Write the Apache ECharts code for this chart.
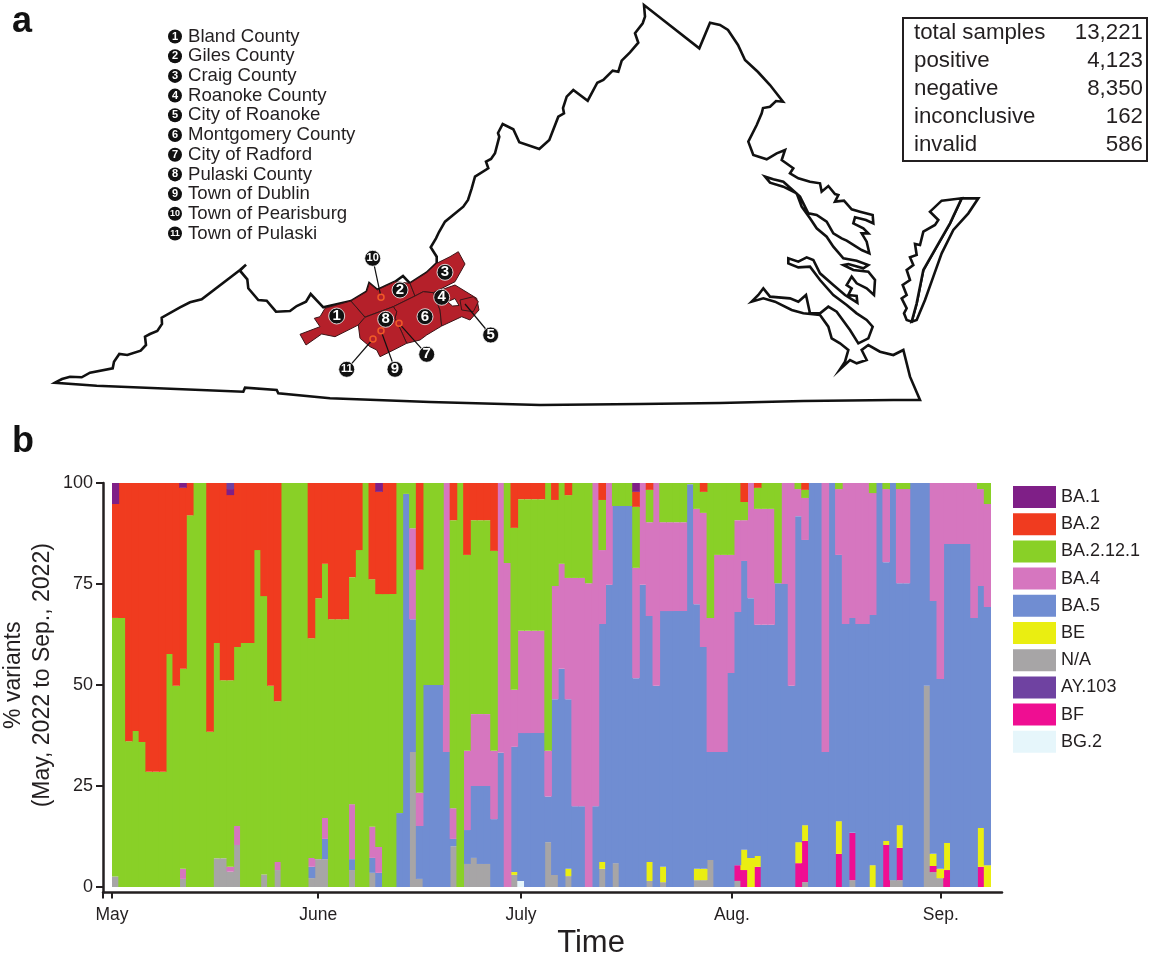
<!DOCTYPE html>
<html>
<head>
<meta charset="utf-8">
<style>html,body{margin:0;padding:0;background:#fff}#c{width:1150px;height:957px}</style>
<script src="https://cdn.jsdelivr.net/npm/echarts@6/dist/echarts.min.js"></script>
</head>
<body>
<div id="c"></div>
<script>
// ---------- panel b data: % of each variant per day (130 days from 1 May 2022) ----------
const variantNames = ['BA.1','BA.2','BA.2.12.1','BA.4','BA.5','BE','N/A','AY.103','BF','BG.2'];
const na = [2.6,0,0,0,0,0,0,0,0,0, 2,0,0,0,0,7.1,7.1,3.8,10.4,0,
 0,0,3.1,0,4.2,0,0,0,0,2.2, 6.9,6.9,0,0,0,4.2,0,0,3.5,0,
 0,0,0,0,33.4,2,0,0,0,0, 10.1,0,5.7,7.2,5.7,5.7,0,0,0,3,
 0,0,0,0,11.1,3,0,2.7,0,0, 0,0,4.5,0,5.9,0,0,0,0,1.5,
 0,1.2,0,0,0,0,1.7,1.7,6.7,0, 0,0,1.5,0,0,0,0,0,0,0,
 0,0,1.2,0,0,0,0,0,0,1.7, 0,0,0,0,0,1.7,1.7,0,0,0,
 49.8,3.7,2.2,0,0,0,0,0,0,0];
const bg2 = [0,0,0,0,0,0,0,0,0,0, 0,0,0,0,0,0,0,0,0,0,
 0,0,0,0,0,0,0,0,0,0, 0,0,0,0,0,0,0,0,0,0,
 0,0,0,0,0,0,0,0,0,0, 0,0,0,0,0,0,0,0,0,0,
 1.5,0,0,0,0,0,0,0,0,0, 0,0,0,0,0,0,0,0,0,0,
 0,0,0,0,0,0,0,0,0,0, 0,0,0,0,0,0,0,0,0,0,
 0,0,0,0,0,0,0,0,0,0, 0,0,0,0,0,0,0,0,0,0,
 0,0,0,0,0,0,0,0,0,0];
const bf = [0,0,0,0,0,0,0,0,0,0, 0,0,0,0,0,0,0,0,0,0,
 0,0,0,0,0,0,0,0,0,0, 0,0,0,0,0,0,0,0,0,0,
 0,0,0,0,0,0,0,0,0,0, 0,0,0,0,0,0,0,0,0,0,
 0,0,0,0,0,0,0,0,0,0, 0,0,0,0,0,0,0,0,0,0,
 0,0,0,0,0,0,0,0,0,0, 0,0,3.9,4.2,0,5,0,0,0,0,
 0,5.9,10.2,0,0,0,0,8.2,0,11.7, 0,0,0,0,10.4,0,8,0,0,0,
 0,1.5,0,4.2,0,0,0,0,5,0];
const be = [0,0,0,0,0,0,0,0,0,0, 0,0,0,0,0,0,0,0,0,0,
 0,0,0,0,0,0,0,0,0,0, 0,0,0,0,0,0,0,0,0,0,
 0,0,0,0,0,0,0,0,0,0, 0,0,0,0,0,0,0,0,0,0.7,
 0,0,0,0,0,0,0,1.8,0,0, 0,0,1.7,0,0,0,0,0,0,4.7,
 0,3.8,0,0,0,0,2.8,2.8,0,0, 0,0,0,5,7.2,2.7,0,0,0,0,
 0,5.2,3.9,0,0,0,0,8.1,0,0, 0,0,5.4,0,1,0,5.6,0,0,0,
 0,3,2.3,6.7,0,0,0,0,9.6,5.4];
const ba5 = [0,0,0,0,0,0,0,0,0,0, 0,0,0,0,0,0,0,0,0,0,
 0,0,0,0,0,0,0,0,0,2.8, 0,5,0,0,0,2.7,0,0,3.7,3.5,
 0,0,18.3,97.3,32.9,13.1,50,50,50,33.4, 1.8,0,8.4,17.8,19.3,19.3,16.8,33.2,0,31,
 36.6,38.1,38.1,38.1,11.3,43.5,54,42,20,20, 0,20,58.9,74.8,88.4,94.3,94.3,51.7,74.8,60.9,
 49.8,63.3,68.3,68.3,68.3,99.7,65.5,54.9,26.7,33.4, 33.4,53,62.7,71.5,64.3,57.2,64.9,64.9,75.2,75,
 49.8,80.7,70.6,100,100,33.4,100,65.9,65.1,53.2, 65.1,65.1,61.9,100,69,98.3,59.9,75.2,100,100,
 50.2,62.6,47,74,84.9,84.9,84.9,66.6,59.9,63.9];
const ba4 = [0,0,0,0,0,0,0,0,0,0, 2.5,0,0,0,0,0,0,1.2,4.7,0,
 0,0,0,0,2,0,0,0,0,2.2, 0,5.2,0,0,0,13.6,0,0,7.7,6.4,
 0,0,0,0,22.5,8.2,0,0,0,66.6, 7.6,0,19.6,17.8,17.8,17.8,16.9,66.8,80.2,14.1,
 25.3,25.3,25.3,25.3,11.3,28,26,30,56.5,56.5, 75.2,80,18.3,25.2,0,0,0,27.3,25.2,23.2,
 50.2,22,22,22,22,0,23.6,33.2,33.2,48.8, 48.8,29.2,22.7,10.1,28.5,28.7,28.7,28.7,0,25,
 50.2,6.7,10.4,0,0,66.6,0,16.3,34.9,33.4, 34.9,34.9,30.2,0,18.1,0,23.3,23.3,0,0,
 0,29.2,48.5,15.1,15.1,15.1,15.1,33.4,24,25.5];
const ba2121 = [64,66.6,36.1,38.6,35.9,28.5,28.5,28.5,57.7,49.8, 49.5,92,100,100,38.4,53.3,44.1,46.2,44.3,60.4,
 60.4,83.4,68.9,49.8,39.8,100,100,100,100,54.4, 64.6,62.9,66.3,66.3,66.3,56.2,83.4,100,61.3,62.6,
 72.5,72.5,81.7,2.7,11.2,55.2,50,50,50,0, 71.3,100,48.5,48,48,48,49.5,0,19.8,40.1,
 32.6,32.6,32.6,32.6,66.3,21.3,20,20.5,23.5,23.5, 24.8,0,12.4,0,5.7,5.7,5.7,15.1,0,8,
 0,9.7,9.7,9.7,9.7,0.3,6.4,5.2,33.4,17.8, 17.8,17.8,9.2,4.5,0,5.2,6.4,6.4,24.8,0,
 0,1.5,2,0,0,0,0,1.5,0,0, 0,0,2.5,0,1.5,0,1.5,1.5,0,0,
 0,0,0,0,0,0,0,0,1.5,5.2];
const ba2 = [28.2,33.4,63.9,61.4,64.1,71.5,71.5,71.5,42.3,50.2, 44.8,8,0,0,61.6,39.6,48.8,45.8,40.6,39.6,
 39.6,16.6,28,50.2,54,0,0,0,0,38.4, 28.5,20,33.7,33.7,33.7,23.3,16.6,0,23.8,25.3,
 27.5,27.5,0,0,0,21.5,0,0,0,0, 9.2,0,17.8,9.2,9.2,9.2,16.8,0,0,11.1,
 4,4,4,4,0,4.2,0,3,0,0, 0,0,4.2,0,0,0,0,3.7,0,1.7,
 0,0,0,0,0,0,0,2.2,0,0, 0,0,0,4.7,0,1.2,0,0,0,0,
 0,0,1.7,0,0,0,0,0,0,0, 0,0,0,0,0,0,0,0,0,0,
 0,0,0,0,0,0,0,0,0,0];
const ba1 = [5.2,0,0,0,0,0,0,0,0,0, 1.2,0,0,0,0,0,0,1.5,0,0,
 0,0,0,0,0,0,0,0,0,0, 0,0,0,0,0,0,0,0,0,2.2,
 0,0,0,0,0,0,0,0,0,0, 0,0,0,0,0,0,0,0,0,0,
 0,0,0,0,0,0,0,0,0,0, 0,0,0,0,0,0,0,2.2,0,0,
 0,0,0,0,0,0,0,0,0,0, 0,0,0,0,0,0,0,0,0,0,
 0,0,0,0,0,0,0,0,0,0, 0,0,0,0,0,0,0,0,0,0,
 0,0,0,0,0,0,0,0,0,0];
const ay103 = [0,0,0,0,0,0,0,0,0,0, 0,0,0,0,0,0,0,1.5,0,0,
 0,0,0,0,0,0,0,0,0,0, 0,0,0,0,0,0,0,0,0,0,
 0,0,0,0,0,0,0,0,0,0, 0,0,0,0,0,0,0,0,0,0,
 0,0,0,0,0,0,0,0,0,0, 0,0,0,0,0,0,0,0,0,0,
 0,0,0,0,0,0,0,0,0,0, 0,0,0,0,0,0,0,0,0,0,
 0,0,0,0,0,0,0,0,0,0, 0,0,0,0,0,0,0,0,0,0,
 0,0,0,0,0,0,0,0,0,0];
const yTicks = [0,25,50,75,100];
const monthLabels = ['May','June','July','Aug.','Sep.'];
const monthDayOffsets = [0,30.5,60.5,91.7,122.6];

// ---------- panel a data ----------
const countyNames = ['Bland County','Giles County','Craig County','Roanoke County','City of Roanoke','Montgomery County','City of Radford','Pulaski County','Town of Dublin','Town of Pearisburg','Town of Pulaski'];
const statNames = ['total samples','positive','negative','inconclusive','invalid'];
const statValues = ['13,221','4,123','8,350','162','586'];

// outlines (map units equal page pixels)
const westAndMountains = [[55,382.7],[62,379],[70,376.7],[81.7,377.3],[90,372.7],[112.7,368.3],[114,361.7],[119.3,354],[127.3,355],[140.7,350.7],[146,345],[145,336.7],[150,334],[157.3,331],[162,324],[161.7,317.7],[180,307.3],[190,302.3],[201.7,299.3],[240,270],[246,264.7],[240,270.7],[247.3,279.3],[248.3,288.3],[258.3,300],[266.7,300.7],[276,311.7],[290,311],[296.7,306],[306,301.7],[310.7,294],[323.3,307.3],[351,301],[366.7,291.7],[369.3,283.3],[377.3,290],[395,281.7],[403,276],[410,283.3],[426.7,272.7],[436.7,263.3],[436.7,256.7],[430.7,247.3],[436,238.3],[439,232],[445,221.7],[463.3,206.7],[468,200],[471.7,188.3],[475,176.7],[488.3,168.3],[486,161.7],[491,159],[495,153.3],[499.3,136.7],[498,133],[502.7,124],[513.3,129.3],[519.3,142.3],[539.3,149],[549.3,140],[558.3,116.7],[564,113.3],[563,108],[566.7,96.7],[573.3,90],[587.7,100.7],[597.3,82.7],[603.3,80],[612.7,70.7],[618.3,71.7],[621.7,60.7],[630,52.3],[638.3,42.7],[635,33.3],[642.7,23.3],[645,16.7],[644,5],[699.3,48.3],[710,22.7],[720,25],[728,30],[738,45],[745,60],[758,72],[770,85],[783,101.7],[776,101],[770,106.7],[763,108],[761.7,113.3],[756.7,125],[748.3,141.7],[753.3,155],[766.7,159.3],[776.7,153.3],[785,150],[781.7,160],[793.3,168.3]];
const shorelineCrop = [[210,10],[235,25],[270,35],[300,40],[305,65],[325,48],[345,72],[355,75],[345,95],[372,92],[395,118],[420,125],[458,135],[460,160],[438,150],[405,142],[400,160],[430,175],[445,190],[425,190],[440,215],[448,250],[425,240],[380,212],[365,205],[340,190],[320,155],[290,135],[265,130],[240,80],[190,35],[160,28],[135,20],[150,38],[190,50],[230,70],[245,110],[270,145],[290,175],[320,200],[340,230],[370,265],[410,272],[445,285],[430,295],[385,282],[370,285],[400,300],[445,305],[465,330],[462,375],[440,355],[410,340],[395,320],[380,345],[395,355],[385,375],[410,378],[412,398],[375,375],[340,345],[300,310],[280,270],[260,262],[235,275],[205,265],[205,280],[235,292],[270,290],[300,330],[340,375],[380,405],[410,430],[440,450],[458,470],[445,505],[415,520],[390,480],[350,425],[325,410],[300,430],[270,430],[258,375],[235,395],[210,385],[150,380],[130,355],[115,375],[95,395],[130,385],[165,395],[215,420],[250,430],[300,435],[325,470],[335,505],[360,520],[385,540],[375,575],[360,598],[390,570],[410,580],[440,570],[425,540],[445,525],[480,545],[520,555],[550,540],[570,620],[600,690]];
const southBorder = [[893.3,400],[803.3,401],[720,403],[640,404],[540,405],[430,402],[330,398.3],[278.3,393.3],[276.7,390],[245,387.7],[243.3,391.7],[96.7,385.7]];
const delmarvaWestCrop = [[665,92],[725,85],[690,160],[650,230],[610,300],[590,400],[575,455],[560,450],[552,430],[560,415],[545,385],[560,375],[548,345],[570,330],[560,300],[580,285],[570,262],[590,255],[585,222],[600,225],[610,185],[645,165],[655,150],[630,125]];
const delmarvaEastCrop = [[725,85],[775,85],[745,130],[700,180],[665,250],[640,320],[615,390],[590,450],[575,455],[590,400],[610,300],[650,230],[690,160]];
const blandShape = [[300,334.3],[306,345],[321.7,334],[335,336.7],[358.3,325],[365,317.3],[351,301],[325,308.3],[320,316.7],[314.3,318.3],[320,326.7]];
const gilesShape = [[351,301],[365,317],[393.3,306.7],[415,296],[410,283.3],[395,281.7],[377.3,290],[369.3,283.3],[366.7,291.7]];
const craigShape = [[410,283.3],[415,296],[423.3,291.7],[433.3,292.7],[455,281.7],[465,264],[458.3,251.7],[450,256.7],[436.7,263.3],[426.7,272.7]];
const roanokeCoShape = [[433.3,292.7],[455,285],[476.7,298.3],[479,310],[470,320],[461.7,316.7],[441.7,326],[440,310]];
const roanokeGapShape = [[447.5,301.7],[455,298.5],[459,305.5],[452.5,306]];
const roanokeCityShape = [[460,300],[473.3,296.7],[478.3,301.7],[473.3,311.7],[461.7,310]];
const montgomeryShape = [[393.3,306.7],[415,296],[423.3,291.7],[433.3,292.7],[440,310],[441.7,326],[426.7,335],[420,340],[406.7,343.3],[400,328.3],[395,318.3],[396.7,311.7]];
const pulaskiShape = [[358.3,325],[365,317.3],[393.3,306.7],[396.7,311.7],[395,318.3],[400,328.3],[406.7,343.3],[395,349.3],[380,356.7],[376.7,350],[370,346.7],[360,338.3]];
const numberPositions = [[336.7,316],[400,290],[445,272.3],[441.7,297.3],[490.7,335],[425,316.7],[426.7,354.3],[385.7,319.3],[395,369.3],[372.7,258.3],[346.7,369.3]];
const leaderLines = [[[372.7,258.3],[381,297]],[[465,304],[490.7,335]],[[399,323.3],[426.7,354.3]],[[381,330.7],[395,369.3]],[[373,339],[346.7,369.3]]];
const townRings = [[381,297.3],[399,323.3],[381,330.7],[373,339]];
const legendListX = 175, legendListTop = 36.5, legendListStep = 19.7;

// ---------- helpers ----------
const fromCrop = p => [720+p[0]/3, 170+p[1]/3];
const toGeo = p => [p[0], -p[1]];
const ring = pts => { const r = pts.map(toGeo); r.push(r[0]); return r; };
const feature = (name, pts) => ({type:'Feature', properties:{name}, geometry:{type:'Polygon', coordinates:[ring(pts)]}});
const stateOutline = westAndMountains.concat(shorelineCrop.map(fromCrop), southBorder);
const counties = [['Bland',blandShape],['Giles',gilesShape],['Craig',craigShape],['Montgomery',montgomeryShape],['Pulaski',pulaskiShape],['RoanokeCo',roanokeCoShape],['RoanokeCity',roanokeCityShape]];
echarts.registerMap('va', {type:'FeatureCollection', features:[
  feature('Virginia',stateOutline), feature('DelmarvaE',delmarvaEastCrop.map(fromCrop)), feature('DelmarvaW',delmarvaWestCrop.map(fromCrop)),
  ...counties.map(c => feature(c[0],c[1])), feature('RoanokeGap',roanokeGapShape)
]});

const PX_PER_DAY = 6.76;
const dayCategories = na.map((_,i) => 'd'+i);
const FONT = '"Liberation Sans", Arial, sans-serif', INK = '#231f20';
const stackOrder = [['N/A',na,'#a7a5a6'],['BG.2',bg2,'#e6f6fb'],['BF',bf,'#ef0e92'],['BE',be,'#eaee11'],['BA.5',ba5,'#708dd2'],['BA.4',ba4,'#d676bf'],['BA.2.12.1',ba2121,'#89d027'],['BA.2',ba2,'#f03b1f'],['BA.1',ba1,'#7f1f87'],['AY.103',ay103,'#6f42a1']];

const barSeries = stackOrder.map(s => ({
  type:'bar', name:s[0], stack:'v', data:s[1], barWidth:7.6,
  itemStyle:{color:s[2], opacity:1}, silent:true, xAxisIndex:0, yAxisIndex:0
}));

const statGraphics = [];
statGraphics.push({type:'rect', shape:{x:903,y:18,width:244,height:143}, style:{fill:'#fff',stroke:INK,lineWidth:2}});
statNames.forEach((n,i)=>{
  const y = 33 + i*28;
  statGraphics.push({type:'text', x:914, y, style:{text:n, font:'22.3px '+FONT, fill:INK, textAlign:'left', textVerticalAlign:'middle'}});
  statGraphics.push({type:'text', x:1143, y, style:{text:statValues[i], font:'22.3px '+FONT, fill:INK, textAlign:'right', textVerticalAlign:'middle'}});
});
['a','b'].forEach((t,i)=>statGraphics.push({type:'text', x:12, y:i?442:22, style:{text:t, font:'bold 36px '+FONT, fill:'#111', textAlign:'left', textVerticalAlign:'middle'}}));

const numbered = (positions, big, small) => positions.map((p,i) => ({value:toGeo(p), label:{fontSize:i>=9?small:big}}));
const axisStartDay = -9/PX_PER_DAY;
const chart = echarts.init(document.getElementById('c'), null, {renderer:'canvas'});
chart.setOption({
  animation:false,
  backgroundColor:'#fff',
  textStyle:{fontFamily:FONT},
  geo:{
    map:'va', roam:false, silent:true, aspectScale:1,
    boundingCoords:[[0,0],[1150,-957]], left:0, top:0, width:1150, height:957,
    itemStyle:{areaColor:'#fff', borderColor:'#111', borderWidth:2.6},
    label:{show:false}, emphasis:{disabled:true},
    regions:counties.map(c=>({name:c[0], itemStyle:{areaColor:'#b5202a', borderColor:'#3d1518', borderWidth:1}}))
      .concat([{name:'RoanokeGap', itemStyle:{areaColor:'#fff', borderColor:'#3d1518', borderWidth:1}}])
  },
  grid:[
    {left:112, width:879, top:483, height:404, outerBoundsMode:'none'},
    {left:103, right:148, top:483, bottom:64.5, outerBoundsMode:'none'}
  ],
  xAxis:[
    {type:'category', gridIndex:0, data:dayCategories, show:false, boundaryGap:true},
    {type:'value', gridIndex:1, min:axisStartDay, max:(1002-112)/PX_PER_DAY,
     name:'Time', nameLocation:'middle', nameGap:35,
     nameTextStyle:{fontSize:31, color:INK, padding:[0,0,0,77]},
     axisLine:{onZero:false, lineStyle:{color:INK, width:2.5}},
     axisTick:{show:true, length:6, lineStyle:{color:INK, width:2}, customValues:[axisStartDay].concat(monthDayOffsets)},
     axisLabel:{show:true, fontSize:17.5, color:INK, margin:14, customValues:monthDayOffsets, hideOverlap:false,
       formatter:v => monthLabels[monthDayOffsets.indexOf(v)] || ''},
     splitLine:{show:false}}
  ],
  yAxis:[
    {type:'value', gridIndex:0, min:0, max:100, show:false},
    {type:'value', gridIndex:1, min:-1.36, max:100,
     name:'% variants\n(May, 2022 to Sep., 2022)', nameLocation:'middle', nameGap:46, nameRotate:90, nameMoveOverlap:false,
     nameTextStyle:{fontSize:23, lineHeight:29, color:INK, padding:[0,0,0,25]},
     axisLine:{onZero:false, lineStyle:{color:INK, width:2.5}},
     axisTick:{show:true, length:7, lineStyle:{color:INK, width:2}, customValues:yTicks},
     axisLabel:{fontSize:18, color:INK, margin:10, customValues:yTicks},
     splitLine:{show:false}}
  ],
  legend:{
    data:variantNames, orient:'vertical', left:1013, top:486, padding:0, icon:'rect',
    itemWidth:43, itemHeight:22, itemGap:5.2, selectedMode:false,
    textStyle:{fontSize:18, color:INK}
  },
  graphic:statGraphics,
  series:[
    ...barSeries,
    {type:'lines', coordinateSystem:'geo', polyline:true, silent:true, z:4,
     lineStyle:{color:'#111', width:1.2, opacity:1},
     data:leaderLines.map(l=>({coords:l.map(toGeo)}))},
    {type:'scatter', coordinateSystem:'geo', silent:true, z:5, symbol:'circle', symbolSize:6,
     itemStyle:{color:'#b5202a', borderColor:'#f05a28', borderWidth:1.5, opacity:1},
     data:townRings.map(toGeo)},
    {type:'scatter', coordinateSystem:'geo', silent:true, z:6, symbol:'circle', symbolSize:16,
     itemStyle:{color:'#111', borderColor:'#fff', borderWidth:0.8, opacity:1},
     label:{show:true, position:'inside', color:'#fff', fontWeight:'bold', formatter:p=>String(p.dataIndex+1)},
     data:numbered(numberPositions,15,11)},
    {type:'scatter', coordinateSystem:'geo', silent:true, z:6, symbol:'circle', symbolSize:14,
     itemStyle:{color:'#111', opacity:1},
     label:{show:true, position:'inside', color:'#fff', fontWeight:'bold', formatter:p=>String(p.dataIndex+1)},
     data:numbered(countyNames.map((n,i)=>[legendListX, legendListTop+i*legendListStep]),11,9)},
    {type:'scatter', coordinateSystem:'geo', silent:true, z:6, symbol:'circle', symbolSize:1,
     itemStyle:{color:'transparent', opacity:1},
     label:{show:true, position:'right', distance:6, color:INK, fontSize:18.6, formatter:p=>countyNames[p.dataIndex]},
     data:countyNames.map((n,i)=>toGeo([legendListX+6.5, legendListTop+i*legendListStep]))}
  ]
});
</script>
</body>
</html>
